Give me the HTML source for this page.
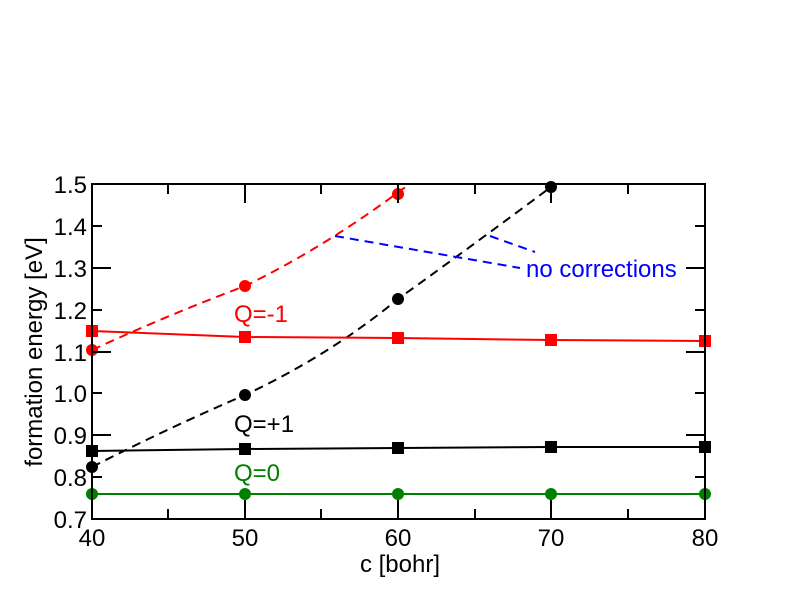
<!DOCTYPE html>
<html><head><style>body{margin:0;background:#fff}svg{display:block}</style></head><body>
<svg width="792" height="612" xmlns="http://www.w3.org/2000/svg" font-family="Liberation Sans, sans-serif">
<rect width="792" height="612" fill="#fff"/>
<defs><clipPath id="c"><rect x="92" y="184" width="613" height="335"/></clipPath></defs>
<g clip-path="url(#c)" fill="none" stroke-width="2">
<path d="M92,350 Q168,315 245,286 Q330,245 420,176" stroke="#f00" stroke-dasharray="9,6"/>
<path d="M92,467 Q168,428 245,395 Q330,355 398,299 Q480,240 551,187" stroke="#000" stroke-dasharray="9,6"/>
<polyline points="92,331 245,337 398,338 551,340 705,341" stroke="#f00"/>
<polyline points="92,451 245,449 398,448 551,447 705,447" stroke="#000"/>
<polyline points="92,494 705,494" stroke="#008000"/>
<path d="M335,236 L520,268 M490,236 L535,252" stroke="#00f" stroke-dasharray="9,6"/>
</g>
<g fill="#f00"><circle cx="92" cy="350" r="6"/><circle cx="245" cy="286" r="6"/><circle cx="398" cy="194" r="6"/>
<rect x="86" y="325" width="12" height="12"/><rect x="239" y="331" width="12" height="12"/><rect x="392" y="332" width="12" height="12"/><rect x="545" y="334" width="12" height="12"/><rect x="699" y="335" width="12" height="12"/></g>
<g fill="#000"><circle cx="92" cy="467" r="6"/><circle cx="245" cy="395" r="6"/><circle cx="398" cy="299" r="6"/><circle cx="551" cy="187" r="6"/>
<rect x="86" y="445" width="12" height="12"/><rect x="239" y="443" width="12" height="12"/><rect x="392" y="442" width="12" height="12"/><rect x="545" y="441" width="12" height="12"/><rect x="699" y="441" width="12" height="12"/></g>
<g fill="#008000"><circle cx="92" cy="494" r="6"/><circle cx="245" cy="494" r="6"/><circle cx="398" cy="494" r="6"/><circle cx="551" cy="494" r="6"/><circle cx="705" cy="494" r="6"/></g>
<rect x="92" y="184" width="613" height="335" fill="none" stroke="#000" stroke-width="2"/>
<g stroke="#000" stroke-width="2">
<path d="M92,184h19M92,226h10M92,268h19M92,310h10M92,352h19M92,393h10M92,435h19M92,477h10M92,519h19"/>
<path d="M705,184h-19M705,226h-10M705,268h-19M705,310h-10M705,352h-19M705,393h-10M705,435h-19M705,477h-10M705,519h-19"/>
<path d="M245,519v-19M398,519v-19M551,519v-19M168,519v-10M321,519v-10M475,519v-10M628,519v-10"/>
<path d="M245,184v19M398,184v19M551,184v19M168,184v10M321,184v10M475,184v10M628,184v10"/>
</g>
<g font-size="24" fill="#000" text-anchor="end">
<text x="87" y="193">1.5</text><text x="87" y="235">1.4</text><text x="87" y="277">1.3</text><text x="87" y="319">1.2</text><text x="87" y="361">1.1</text><text x="87" y="402">1.0</text><text x="87" y="444">0.9</text><text x="87" y="486">0.8</text><text x="87" y="528">0.7</text>
</g>
<g font-size="24" fill="#000" text-anchor="middle">
<text x="92" y="546">40</text><text x="245" y="546">50</text><text x="398" y="546">60</text><text x="551" y="546">70</text><text x="705" y="546">80</text>
<text x="400" y="572">c [bohr]</text>
<text transform="translate(42,352) rotate(-90)">formation energy [eV]</text>
</g>
<text x="234" y="322" font-size="24" fill="#f00">Q=-1</text>
<text x="234" y="432" font-size="24" fill="#000">Q=+1</text>
<text x="234" y="481" font-size="24" fill="#008000">Q=0</text>
<text x="526" y="277" font-size="24" fill="#00f">no corrections</text>
</svg>
</body></html>
